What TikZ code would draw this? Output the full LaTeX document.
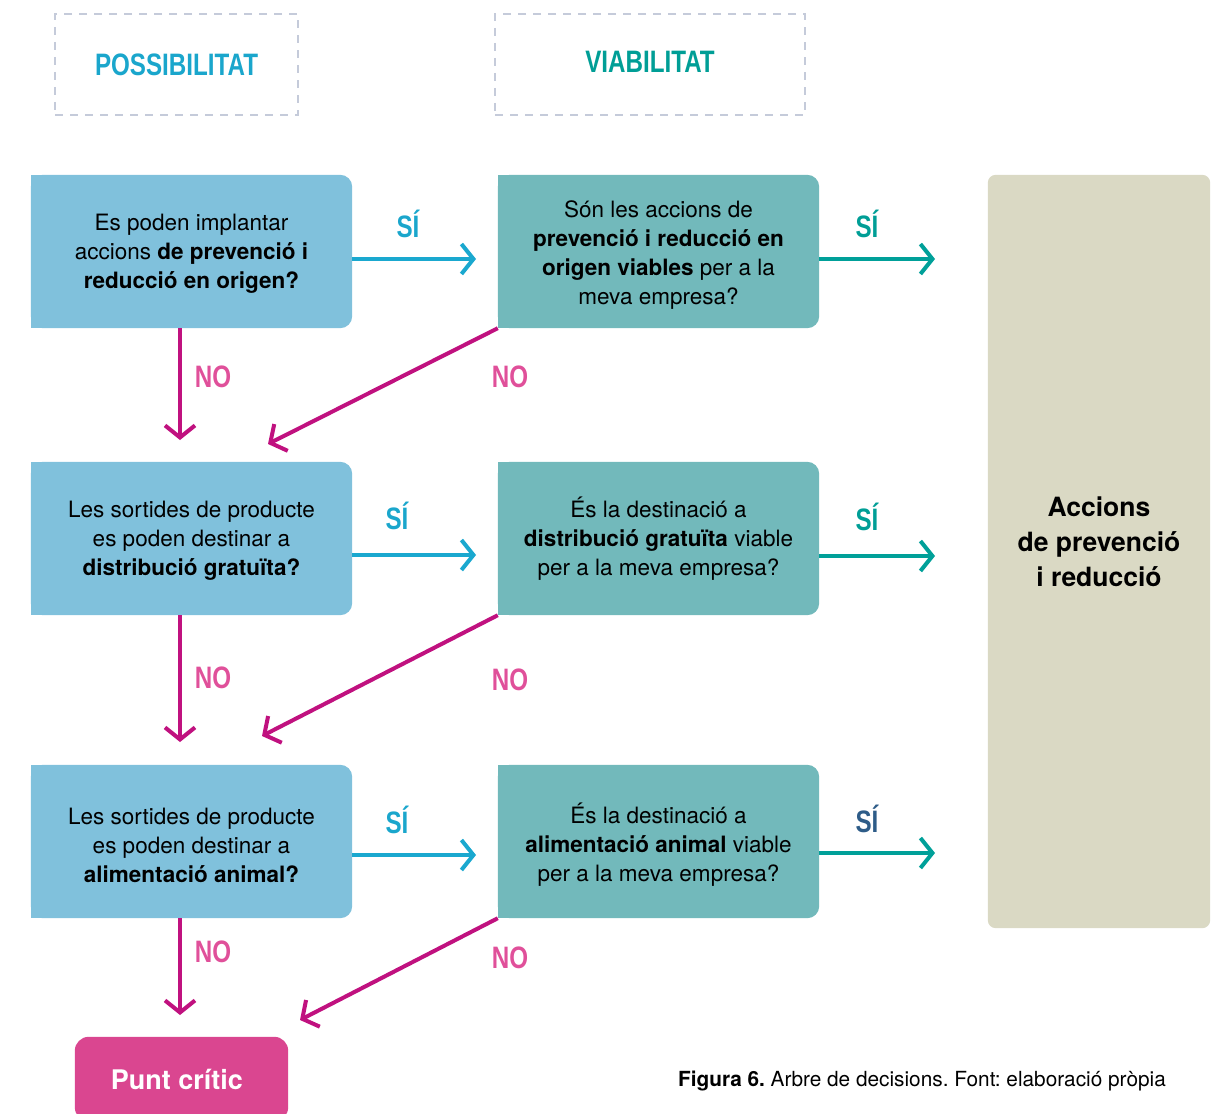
\documentclass[tikz,border=0pt]{standalone}
\usepackage{fontspec}
\setmainfont{TeX Gyre Heros}
\newfontfamily\condfont[FakeStretch=0.78]{Liberation Sans}
\usetikzlibrary{arrows.meta,backgrounds}
\frenchspacing
\definecolor{boxblue}{HTML}{80C1DC}
\definecolor{boxteal}{HTML}{72B9BB}
\definecolor{beige}{HTML}{DAD9C4}
\definecolor{pinkbox}{HTML}{DA4690}
\definecolor{arrblue}{HTML}{1AA8CF}
\definecolor{arrteal}{HTML}{00A099}
\definecolor{arrmag}{HTML}{C0117F}
\definecolor{lblpink}{HTML}{E0509A}
\definecolor{lblblue}{HTML}{1AA6CC}
\definecolor{lblteal}{HTML}{009E96}
\definecolor{lbldark}{HTML}{2E5C88}
\definecolor{dashcol}{HTML}{C5CBDA}
\tikzset{
  qbox/.style={minimum width=321pt,minimum height=153pt,inner sep=0pt,align=center,
    font=\fontsize{22.5}{29}\selectfont,text=black},
  headbox/.style={draw=dashcol,line width=1.8pt,dash pattern=on 8pt off 7pt,inner sep=0pt,
    font=\condfont\bfseries\fontsize{31}{31}\selectfont},
  lbl/.style={font=\condfont\bfseries\fontsize{31}{31}\selectfont,inner sep=0pt},
  arr/.style={line width=4pt,-{Straight Barb[length=12pt,width=30pt,line width=4pt]}},
}
\begin{document}
\begin{tikzpicture}[x=1pt,y=-1pt]
\useasboundingbox (0,0) rectangle (1217,1113);
% header boxes
\node[headbox,minimum width=243pt,minimum height=101pt,text=lblblue] (hp) at (176.5,64.5) {POSSIBILITAT};
\node[headbox,minimum width=310pt,minimum height=101pt,text=lblteal,text depth=0pt] (hv) at (650,64.5) {\raisebox{5pt}{VIABILITAT}};
% question boxes
\node[qbox] (q1) at (191.5,251.5) {\\[-8pt]Es poden implantar\\ accions \textbf{de prevenció i}\\ \textbf{reducció en origen?}};
\node[qbox] (t1) at (658.5,251.5) {\\[-6pt]Són les accions de\\ \textbf{prevenció i reducció en}\\ \textbf{origen viables} per a la\\ meva empresa?};
\node[qbox] (q2) at (191.5,538.5) {\\[-8pt]Les sortides de producte\\ es poden destinar a\\ \textbf{distribució gratuïta?}};
\node[qbox] (t2) at (658.5,538.5) {\\[-8pt]És la destinació a\\ \textbf{distribució gratuïta} viable\\ per a la meva empresa?};
\node[qbox] (q3) at (191.5,841.5) {\\[-4pt]Les sortides de producte\\ es poden destinar a\\ \textbf{alimentació animal?}};
\node[qbox] (t3) at (658.5,841.5) {\\[-2pt]És la destinació a\\ \textbf{alimentació animal} viable\\ per a la meva empresa?};
\node[minimum width=222pt,minimum height=753pt,inner sep=0pt,align=center,
  font=\bfseries\fontsize{26.5}{35}\selectfont] (res) at (1099,551.5) {Accions\\ de prevenció\\ i reducció\\[-15pt]\mbox{}};
\node[minimum width=213pt,minimum height=84pt,inner sep=0pt,text=white,
  font=\bfseries\fontsize{27}{27}\selectfont] (pc) at (181.5,1079) {\hspace*{-9pt}Punt crític};
% backgrounds
\begin{scope}[on background layer]
  \foreach \n in {q1,q2,q3}{
    \fill[boxblue,rounded corners=12pt] (\n.north west) rectangle (\n.south east);
    \fill[boxblue] (\n.north west) rectangle (\n.south);
  }
  \foreach \n in {t1,t2,t3}{
    \fill[boxteal,rounded corners=12pt] (\n.north west) rectangle (\n.south east);
    \fill[boxteal] (\n.north west) rectangle (\n.south);
  }
  \fill[beige,rounded corners=8pt] (res.north west) rectangle (res.south east);
  \fill[pinkbox,rounded corners=14pt] (pc.north west) rectangle (pc.south east);
\end{scope}
% arrow end coordinates
\coordinate (a1) at (476,259);
\coordinate (a2) at (476,555);
\coordinate (a3) at (476,855);
\coordinate (b1) at (935,259);
\coordinate (b2) at (935,556);
\coordinate (b3) at (935,853);
\coordinate (v1) at (180,440);
\coordinate (v2) at (180,742);
\coordinate (v3) at (180,1015);
\coordinate (d1) at (268,444);
\coordinate (d2) at (262,736);
\coordinate (d3) at (300,1020);
% arrows
\foreach \q/\a in {q1/a1,q2/a2,q3/a3}{
  \draw[arr,arrblue] (\q.east |- \a) -- (\a);
}
\foreach \t/\b in {t1/b1,t2/b2,t3/b3}{
  \draw[arr,arrteal] (\t.east |- \b) -- (\b);
}
\foreach \q/\v in {q1/v1,q2/v2,q3/v3}{
  \draw[arr,arrmag] (\q.south -| \v) -- (\v);
}
\foreach \t/\d in {t1/d1,t2/d2,t3/d3}{
  \draw[arr,arrmag] (\t.south west) -- (\d);
}
% labels
\node[lbl,text=lblblue] (s1) at (408,224) {SÍ};
\node[lbl,text=lblblue] (s2) at (397,516) {SÍ};
\node[lbl,text=lblblue] (s3) at (397,820) {SÍ};
\node[lbl,text=lblteal] (r1) at (867,224) {SÍ};
\node[lbl,text=lblteal] (r2) at (867,517) {SÍ};
\node[lbl,text=lbldark] (r3) at (867,819) {SÍ};
\node[lbl,text=lblpink] (n1) at (213,377) {NO};
\node[lbl,text=lblpink] (n2) at (213,678) {NO};
\node[lbl,text=lblpink] (n3) at (213,952) {NO};
\node[lbl,text=lblpink] (m1) at (510,377) {NO};
\node[lbl,text=lblpink] (m2) at (510,680) {NO};
\node[lbl,text=lblpink] (m3) at (510,958) {NO};
% caption
\node[anchor=east,inner sep=0pt,font=\fontsize{20.8}{20.8}\selectfont] (cap) at (1166,1081) {\textbf{Figura 6.} Arbre de decisions. Font: elaboració pròpia};
\end{tikzpicture}
\end{document}
